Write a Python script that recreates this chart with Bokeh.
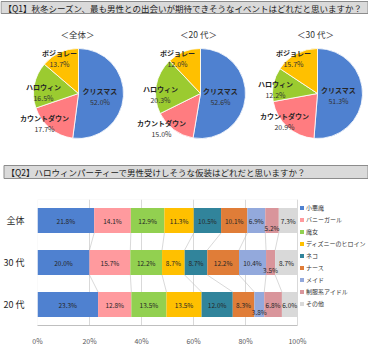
import numpy as np
from bokeh.plotting import figure
from bokeh.models import (Range1d, FactorRange, ColumnDataSource, Legend, LegendItem,
                          FixedTicker, PrintfTickFormatter, BoxAnnotation)
from bokeh.embed import file_html
from bokeh.resources import INLINE
from bokeh.core.properties import value

FONT = "Noto Sans CJK JP"

# ---------------- data ----------------
Q1_TITLE = "【Q1】秋冬シーズン、最も男性との出会いが期待できそうなイベントはどれだと思いますか？"
Q2_TITLE = "【Q2】ハロウィンパーティーで男性受けしそうな仮装はどれだと思いますか？"

PIE_GROUPS = ["＜全体＞", "＜20 代＞", "＜30 代＞"]
PIE_EVENTS = ["クリスマス", "カウントダウン", "ハロウィン", "ボジョレー"]
PIE_ALL = [52.0, 17.7, 16.5, 13.7]
PIE_20 = [52.6, 15.0, 20.3, 12.0]
PIE_30 = [51.3, 20.9, 12.2, 15.7]

BAR_GROUPS = ["全体", "30 代", "20 代"]
COSTUMES = ["小悪魔", "バニーガール", "魔女", "ディズニーのヒロイン", "ネコ",
            "ナース", "メイド", "制服系アイドル", "その他"]
BAR_ALL = [21.8, 14.1, 12.9, 11.3, 10.5, 10.1, 6.9, 5.2, 7.3]
BAR_30 = [20.0, 15.7, 12.2, 8.7, 8.7, 12.2, 10.4, 3.5, 8.7]
BAR_20 = [23.3, 12.8, 13.5, 13.5, 12.0, 8.3, 3.8, 6.8, 6.0]
X_TICKS = [0, 20, 40, 60, 80, 100]

# ---------------- styles / layout ----------------
PIE_COLORS = ["#4F81D0", "#FF7C80", "#9BCB30", "#FFC000"]
BAR_COLORS = ["#4F81D0", "#FF9A9E", "#92D050", "#FFC000", "#31849B",
              "#E07D38", "#93A9DC", "#D9959B", "#D9D9D9"]
W = 368
H1 = 185
H2 = 163
PIE_CX = [78, 200, 317]
PIE_CY = 92
PIE_R = 45
SUB_X = [77, 198, 315]
LABEL_DX = [[21.5, -34, -35, -19], [20, -39, -40, -23], [21, -33, -42, -24]]
LABEL_DY = [[-3, 24, -7, -41], [-3, 29, -5, -41], [-4, 22, -10, -41]]
X_MAX = 127.3   # frame extends past 100% to host the legend

# ---------------- top figure: titles + pies ----------------
top = figure(width=W, height=H1, x_range=Range1d(0, W), y_range=Range1d(0, H1),
             output_backend="svg", toolbar_location=None, min_border=0,
             x_axis_location=None, y_axis_location=None)
top.grid.visible = False
top.outline_line_color = None

def title_bar(fig, left, y_top, y_bot, tx, txt):
    fig.quad(left=[left], right=[W - 0.5], top=[y_top], bottom=[y_bot],
             fill_color="#DADADA", line_color="#8C8C8C", line_width=1)
    fig.text(x=[tx], y=[(y_top + y_bot) / 2], text=[txt], text_font=value(FONT),
             text_font_size="8.5px", text_baseline="middle", text_align="left",
             text_color="#1A1A1A")

title_bar(top, 0.5, 184, 172, 3, Q1_TITLE)
title_bar(top, 3.5, 20, 7, 6, Q2_TITLE)

for i, vals in enumerate([PIE_ALL, PIE_20, PIE_30]):
    vals = np.array(vals, dtype=float)
    tot = vals.sum()
    c1 = np.cumsum(vals)
    c0 = c1 - vals
    src = ColumnDataSource(dict(
        start=np.pi / 2 - 2 * np.pi * c0 / tot,
        end=np.pi / 2 - 2 * np.pi * c1 / tot,
        color=PIE_COLORS))
    top.wedge(x=PIE_CX[i], y=PIE_CY, radius=PIE_R, start_angle="start", end_angle="end",
              direction="clock", fill_color="color", line_color="white", line_width=0.8,
              source=src)
    top.text(x=[SUB_X[i]], y=[152], text=[PIE_GROUPS[i]], text_font=value(FONT),
             text_font_size="8.5px", text_align="center", text_baseline="middle",
             text_color="#333333")
    lx = [PIE_CX[i] + d for d in LABEL_DX[i]]
    ly = [PIE_CY - d for d in LABEL_DY[i]]
    top.text(x=lx, y=ly, text=PIE_EVENTS, text_font=value(FONT), text_font_size="7px",
             text_font_style="bold", text_align="center", text_baseline="middle",
             text_color="#262626")
    top.text(x=lx, y=[v - 11 for v in ly], text=[f"{v:.1f}%" for v in vals],
             text_font=value(FONT), text_font_size="7px", text_align="center",
             text_baseline="middle", text_color="#333333")

# ---------------- bar figure ----------------
factors = BAR_GROUPS[::-1]
bar = figure(width=W, height=H2, y_range=FactorRange(factors=factors),
             x_range=Range1d(0, X_MAX),
             output_backend="svg", toolbar_location=None,
             min_border_left=37, min_border_right=0, min_border_top=14, min_border_bottom=18)

rows = {"全体": BAR_ALL, "30 代": BAR_30, "20 代": BAR_20}
data = {"group": BAR_GROUPS}
for k, c in enumerate(COSTUMES):
    data[c] = [rows[g][k] for g in BAR_GROUPS]
src = ColumnDataSource(data)
BH = 0.595
rends = bar.hbar_stack(COSTUMES, y="group", height=BH, color=BAR_COLORS, source=src,
                       line_color=None)

sx0, sy0, sx1, sy1 = [], [], [], []
for upper, lower in [("全体", "30 代"), ("30 代", "20 代")]:
    cu = np.cumsum(rows[upper])
    cl = np.cumsum(rows[lower])
    for k in range(len(COSTUMES) - 1):
        sx0.append(float(cu[k])); sy0.append((upper, -BH / 2))
        sx1.append(float(cl[k])); sy1.append((lower, BH / 2))
bar.segment(x0=sx0, y0=sy0, x1=sx1, y1=sy1, line_color="#BFBFBF", line_width=0.6)

lx, ly, lt, lo = [], [], [], []
for g in BAR_GROUPS:
    vals = np.array(rows[g])
    c1 = np.cumsum(vals)
    for k, v in enumerate(vals):
        lx.append(float(c1[k] - v / 2))
        ly.append(g)
        lt.append(f"{v:.1f}%")
        lo.append(7 if v < 5.5 else 0)
bar.text(x=lx, y=ly, text=lt, y_offset=lo, text_font=value(FONT), text_font_size="6.5px",
         text_align="center", text_baseline="middle", text_color="#262626")

bar.xaxis.ticker = FixedTicker(ticks=X_TICKS)
bar.xaxis.formatter = PrintfTickFormatter(format="%d%%")
bar.xaxis.bounds = (0, 100)
bar.xaxis.major_tick_line_color = None
bar.xaxis.minor_tick_line_color = None
bar.xaxis.axis_line_color = "#BFBFBF"
bar.xaxis.major_label_text_font = FONT
bar.xaxis.major_label_text_font_size = "7px"
bar.xaxis.major_label_text_color = "#595959"
bar.xaxis.major_label_standoff = 4
bar.yaxis.axis_line_color = None
bar.yaxis.major_tick_line_color = None
bar.yaxis.minor_tick_line_color = None
bar.yaxis.major_label_text_font = FONT
bar.yaxis.major_label_text_font_size = "9px"
bar.yaxis.major_label_text_color = "#262626"
bar.yaxis.major_label_standoff = 7
bar.xgrid.ticker = FixedTicker(ticks=X_TICKS)
bar.xgrid.grid_line_color = "#D9D9D9"
bar.ygrid.grid_line_color = None
bar.outline_line_color = None
bar.add_layout(BoxAnnotation(left=0, right=100, fill_alpha=0, line_color="#D9D9D9",
                             line_width=1, level="underlay"))

legend = Legend(items=[LegendItem(label=c, renderers=[r]) for c, r in zip(COSTUMES, rends)],
                location=(262, 16), padding=0, margin=0, spacing=0,
                border_line_color=None, background_fill_alpha=0,
                glyph_width=5, glyph_height=5, label_height=12, label_standoff=2,
                label_text_font=FONT, label_text_font_size="6px",
                label_text_color="#333333")
bar.add_layout(legend)

open("out.html", "w").write(file_html([top, bar], INLINE))
